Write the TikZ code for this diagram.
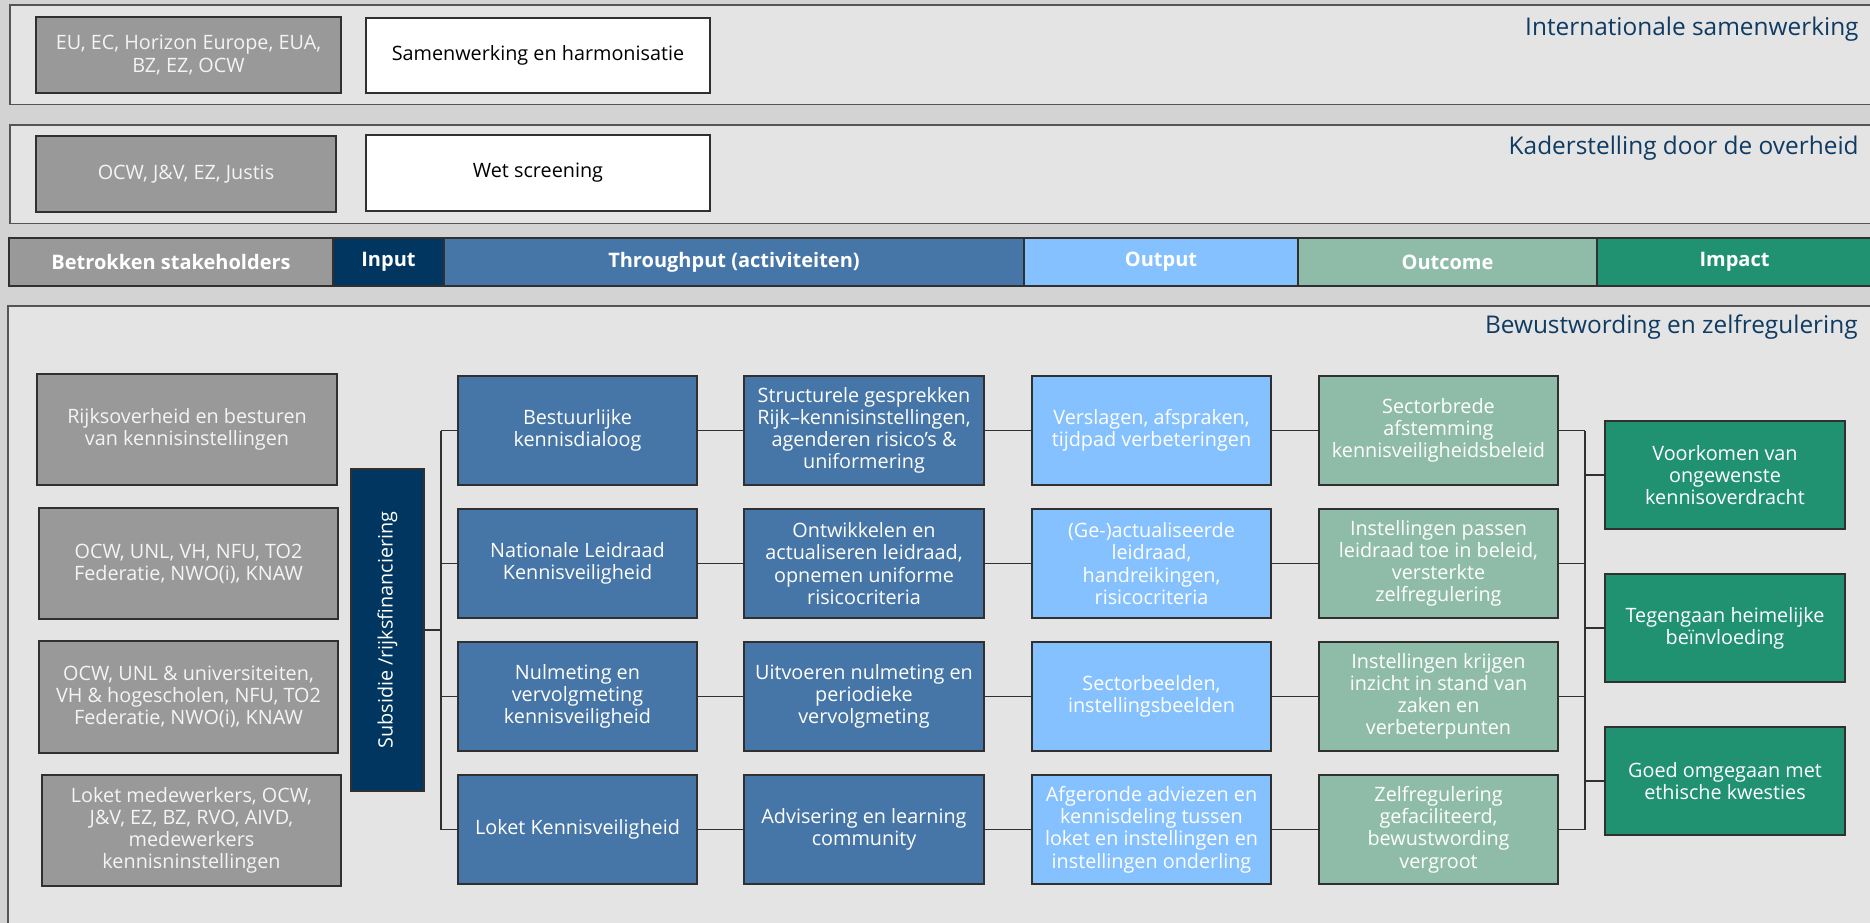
\documentclass[tikz,border=0pt]{standalone}
\usepackage{fontspec}
\setmainfont{Open Sans}
\definecolor{bgc}{HTML}{D3D3D3}
\definecolor{bandc}{HTML}{E4E4E4}
\definecolor{bandline}{HTML}{555555}
\definecolor{boxline}{HTML}{303030}
\definecolor{stakec}{HTML}{999999}
\definecolor{inputc}{HTML}{00365F}
\definecolor{thruc}{HTML}{4675A7}
\definecolor{outc}{HTML}{85C1FF}
\definecolor{outcomec}{HTML}{8FBCA9}
\definecolor{impactc}{HTML}{209272}
\definecolor{titlec}{HTML}{0F3B63}
\definecolor{lighttext}{HTML}{F4F4F4}
\newcommand{\bxfont}{\fontsize{9.9}{11.1}\selectfont}
\newcommand{\hdfont}{\fontsize{10}{12}\selectfont\bfseries}
\newcommand{\ttlfont}{\fontsize{12.2}{14.6}\selectfont}
\newcommand{\placebox}[7]{%
  \pgfmathsetmacro{\bxw}{(#4-#2)*0.5}%
  \pgfmathsetmacro{\bxh}{(#5-#3)*0.5}%
  \node[#6, minimum width=\bxw pt, minimum height=\bxh pt] (#1) at ({(#2+#4)/2},{(#3+#5)/2}) {#7};}
\tikzset{
  box/.style={draw=boxline, line width=0.6pt, inner sep=0.5pt, align=center, font=\bxfont},
  gbox/.style={box, fill=stakec, text=lighttext},
  wbox/.style={box, fill=white, text=black},
  inbox/.style={box, fill=inputc, text=white},
  abox/.style={box, fill=thruc, text=white},
  obox/.style={box, fill=outc, text=white},
  cbox/.style={box, fill=outcomec, text=white},
  ibox/.style={box, fill=impactc, text=white},
  hdr/.style={draw=boxline, line width=0.6pt, inner sep=1pt, text=white, font=\hdfont},
  band/.style={fill=bandc, draw=bandline, line width=0.7pt},
  ttl/.style={anchor=east, text=titlec, font=\ttlfont, inner sep=0pt},
  conn/.style={draw=boxline, line width=0.6pt}
}
\begin{document}
\begin{tikzpicture}[x=0.5pt,y=-0.5pt]
\useasboundingbox (0,0) rectangle (1870,922);
\fill[bgc] (-5,-5) rectangle (1875,927);
% bands
\draw[band] (1876,5) -- (10,5) -- (10,104) -- (1876,104);
\fill[bandc] (10.5,5.5) rectangle (1876,103.5);
\draw[band] (1876,125) -- (10,125) -- (10,223) -- (1876,223);
\fill[bandc] (10.5,125.5) rectangle (1876,222.5);
\draw[band] (1876,306) -- (8,306) -- (8,930);
\fill[bandc] (8.5,306.5) rectangle (1876,930);
% titles
\node[ttl] (t1) at (1859,29) {Internationale samenwerking};
\node[ttl] (t2) at (1859,148) {Kaderstelling door de overheid};
\node[ttl] (t3) at (1858,327) {Bewustwording en zelfregulering};
% top band boxes
\placebox{g1}{36}{17}{341}{93}{gbox}{EU, EC, Horizon Europe, EUA,\\BZ, EZ, OCW}
\placebox{w1}{366}{18}{710}{93}{wbox}{Samenwerking en harmonisatie}
\placebox{g2}{36}{136}{336}{212}{gbox}{OCW, J\&V, EZ, Justis}
\placebox{w2}{366}{135}{710}{211}{wbox}{Wet screening}
% header bar
\placebox{h1}{9}{238}{333}{286}{hdr, fill=stakec}{Betrokken stakeholders}
\placebox{h2}{333}{238}{444}{286}{hdr, fill=inputc}{Input}
\placebox{h3}{444}{238}{1024}{286}{hdr, fill=thruc}{Throughput (activiteiten)}
\placebox{h4}{1024}{238}{1298}{286}{hdr, fill=outc}{Output}
\placebox{h5}{1298}{238}{1597}{286}{hdr, fill=outcomec}{Outcome}
\placebox{h6}{1597}{238}{1872}{286}{hdr, fill=impactc}{Impact}
% stakeholders
\placebox{s1}{37}{374}{337}{485}{gbox}{Rijksoverheid en besturen\\van kennisinstellingen}
\placebox{s2}{39}{508}{338}{619}{gbox}{OCW, UNL, VH, NFU, TO2\\Federatie, NWO(i), KNAW}
\placebox{s3}{39}{641}{338}{753}{gbox}{OCW, UNL \& universiteiten,\\VH \& hogescholen, NFU, TO2\\Federatie, NWO(i), KNAW}
\placebox{s4}{42}{775}{341}{886}{gbox}{Loket medewerkers, OCW,\\J\&V, EZ, BZ, RVO, AIVD,\\medewerkers\\kennisninstellingen}
% input
\placebox{in}{351}{469}{424}{791}{inbox}{}
\node[rotate=90, text=white, font=\bxfont, inner sep=0pt] (intext) at (in.center) {Subsidie /rijksfinanciering};
% activities
\placebox{a1}{458}{376}{697}{485}{abox}{Bestuurlijke\\kennisdialoog}
\placebox{a2}{458}{509}{697}{618}{abox}{Nationale Leidraad\\Kennisveiligheid}
\placebox{a3}{458}{642}{697}{751}{abox}{Nulmeting en\\vervolgmeting\\kennisveiligheid}
\placebox{a4}{458}{775}{697}{884}{abox}{Loket Kennisveiligheid}
\placebox{b1}{744}{376}{984}{485}{abox}{Structurele gesprekken\\Rijk–kennisinstellingen,\\agenderen risico’s \&\\uniformering}
\placebox{b2}{744}{509}{984}{618}{abox}{Ontwikkelen en\\actualiseren leidraad,\\opnemen uniforme\\risicocriteria}
\placebox{b3}{744}{642}{984}{751}{abox}{Uitvoeren nulmeting en\\periodieke\\vervolgmeting}
\placebox{b4}{744}{775}{984}{884}{abox}{Advisering en learning\\community}
% outputs
\placebox{o1}{1032}{376}{1271}{485}{obox}{Verslagen, afspraken,\\tijdpad verbeteringen}
\placebox{o2}{1032}{509}{1271}{618}{obox}{(Ge-)actualiseerde\\leidraad,\\handreikingen,\\risicocriteria}
\placebox{o3}{1032}{642}{1271}{751}{obox}{Sectorbeelden,\\instellingsbeelden}
\placebox{o4}{1032}{775}{1271}{884}{obox}{Afgeronde adviezen en\\kennisdeling tussen\\loket en instellingen en\\instellingen onderling}
% outcomes
\placebox{c1}{1319}{376}{1558}{485}{cbox}{Sectorbrede\\afstemming\\kennisveiligheidsbeleid}
\placebox{c2}{1319}{509}{1558}{618}{cbox}{Instellingen passen\\leidraad toe in beleid,\\versterkte\\zelfregulering}
\placebox{c3}{1319}{642}{1558}{751}{cbox}{Instellingen krijgen\\inzicht in stand van\\zaken en\\verbeterpunten}
\placebox{c4}{1319}{775}{1558}{884}{cbox}{Zelfregulering\\gefaciliteerd,\\bewustwording\\vergroot}
% impacts
\placebox{i1}{1605}{421}{1845}{529}{ibox}{Voorkomen van\\ongewenste\\kennisoverdracht}
\placebox{i2}{1605}{574}{1845}{682}{ibox}{Tegengaan heimelijke\\beïnvloeding}
\placebox{i3}{1605}{727}{1845}{835}{ibox}{Goed omgegaan met\\ethische kwesties}
% buses
\coordinate (lb) at (441,0);
\coordinate (rb) at (1585,0);
\draw[conn] (in.east) -- (in.east -| lb);
\draw[conn] (a1.west -| lb) -- (a4.west -| lb);
\foreach \n in {a1,a2,a3,a4} \draw[conn] (\n.west) -- (\n.west -| lb);
\foreach \p/\q in {a1/b1,a2/b2,a3/b3,a4/b4,b1/o1,b2/o2,b3/o3,b4/o4,o1/c1,o2/c2,o3/c3,o4/c4}
  \draw[conn] (\p.east) -- (\q.west);
\foreach \n in {c1,c2,c3,c4} \draw[conn] (\n.east) -- (\n.east -| rb);
\draw[conn] (c1.east -| rb) -- (c4.east -| rb);
\foreach \n in {i1,i2,i3} \draw[conn] (\n.west) -- (\n.west -| rb);
\end{tikzpicture}
\end{document}
